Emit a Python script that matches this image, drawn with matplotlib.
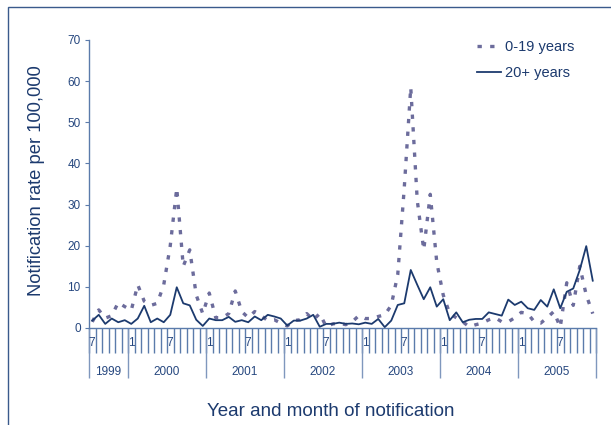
import matplotlib
matplotlib.use("Agg")
import matplotlib.pyplot as plt
import matplotlib.transforms as mtransforms
from matplotlib.patches import Rectangle

plt.rcParams['font.family'] = ['Liberation Sans', 'DejaVu Sans']

#-- Monthly notification rates, July 1999 to December 2005
rate_0_19 = [1.5, 4.4, 2.4, 3.0, 6.2, 5.2, 4.3, 10.5, 6.5, 5.5, 6.0, 10.5,
             20.0, 34.0, 15.0, 19.0, 8.0, 3.5, 8.5, 2.5, 2.5, 3.5, 9.0, 4.0,
             2.5, 4.0, 3.0, 1.8, 2.0, 1.2, 0.5, 1.8, 2.0, 3.5, 2.0, 3.5,
             0.3, 1.0, 1.2, 0.8, 1.5, 3.0, 2.3, 2.3, 2.8, 3.2, 5.5, 13.0,
             34.0, 58.5, 31.0, 19.0, 32.5, 16.0, 8.0, 3.5, 2.5, 1.5, 0.3, 0.8,
             1.2, 2.0, 2.5, 1.5, 1.5, 2.5, 3.8, 3.5, 1.5, 1.2, 2.5, 4.0,
             0.2, 11.0, 5.5, 15.0, 8.0, 3.5]
rate_20_plus = [1.8, 3.2, 1.0, 2.3, 1.4, 1.9, 1.0, 2.3, 5.4, 1.4, 2.3, 1.4,
                3.2, 9.9, 6.0, 5.5, 2.0, 0.5, 2.3, 1.9, 1.9, 2.7, 1.5, 1.9,
                1.4, 2.8, 1.9, 3.2, 2.8, 2.3, 0.6, 1.8, 1.8, 2.3, 3.2, 0.3,
                1.0, 1.0, 1.3, 1.0, 1.1, 0.9, 1.3, 1.0, 2.2, 0.2, 1.8, 5.6,
                6.0, 14.1, 10.5, 7.0, 9.9, 5.2, 7.0, 1.9, 3.8, 1.4, 2.0, 2.2,
                2.2, 3.8, 3.4, 3.0, 6.9, 5.6, 6.4, 4.8, 4.4, 6.8, 5.2, 9.4,
                4.8, 8.8, 9.6, 14.1, 19.9, 11.5]
years = ['1999', '2000', '2001', '2002', '2003', '2004', '2005']
start_month = 7
yticks = [0, 10, 20, 30, 40, 50, 60, 70]

navy = '#1c3a6e'
purple = '#6c6c9c'
axis_col = '#5b7bab'
text_col = '#26477f'

n = len(rate_20_plus)
x = [i + 0.5 for i in range(n)]

fig = plt.figure(figsize=(6.11, 4.25), dpi=100)
# thin frame round the figure
fig.patches.append(Rectangle((8 / 611, -0.1), 1.2, (418 / 425) + 0.1,
                             transform=fig.transFigure, fill=False,
                             edgecolor='#3a5a8c', linewidth=1.0))

ax = fig.add_axes([89 / 611, 97 / 425, 507 / 611, 288 / 425])

ax.plot(x, rate_0_19, color=purple, lw=2.4, linestyle=(0, (1.3, 2.5)),
        dash_capstyle='butt', label='0-19 years', clip_on=False)
ax.plot(x, rate_20_plus, color=navy, lw=1.3, label='20+ years', clip_on=False)

ax.set_xlim(0, n)
ax.set_ylim(0, 70)

for s in ['top', 'right']:
    ax.spines[s].set_visible(False)
for s in ['left', 'bottom']:
    ax.spines[s].set_color(axis_col)
    ax.spines[s].set_linewidth(1.0)

ax.set_yticks(yticks)
ax.tick_params(axis='y', colors=axis_col, labelcolor=text_col, labelsize=8.5,
               length=3, width=0.8, pad=3)

#-- month ticks hang below the axis, year boundaries run further down
year_starts = [0] + [6 + 12 * k for k in range(len(years))]
ax.set_xticks(range(n + 1))
ax.set_xticklabels([])
ax.tick_params(axis='x', colors=axis_col, length=18, width=1.0)
ax.xaxis.remove_overlapping_locs = False
ax.set_xticks(year_starts, minor=True)
ax.tick_params(axis='x', which='minor', colors='#7f97bd', length=36, width=1.0)

trans = mtransforms.blended_transform_factory(ax.transData, ax.transAxes)
for i in range(n):
    month = (start_month - 1 + i) % 12 + 1
    if month in (1, 7):
        ax.text(i + 0.45, -0.052, str(month), transform=trans, ha='center',
                va='center', fontsize=8.5, color=text_col)

for k, yr in enumerate(years):
    lo, hi = year_starts[k], year_starts[k + 1]
    ax.text((lo + hi) / 2, -0.152, yr, transform=trans, ha='center',
            va='center', fontsize=8.5, color=text_col)

fig.text(37 / 611, 1 - 181 / 425, 'Notification rate per 100,000',
         rotation=90, ha='center', va='center', fontsize=13.2, color=navy)
fig.text(331 / 611, 1 - 411 / 425, 'Year and month of notification',
         ha='center', va='center', fontsize=13.5, color=navy)

leg = ax.legend(loc='upper left', bbox_to_anchor=(0.766, 1.0), frameon=False,
                fontsize=10.5, handlelength=1.6, handletextpad=0.3,
                labelspacing=0.85, borderpad=0, borderaxespad=0)
for t in leg.get_texts():
    t.set_color(navy)

fig.savefig('out.png', dpi=100)
